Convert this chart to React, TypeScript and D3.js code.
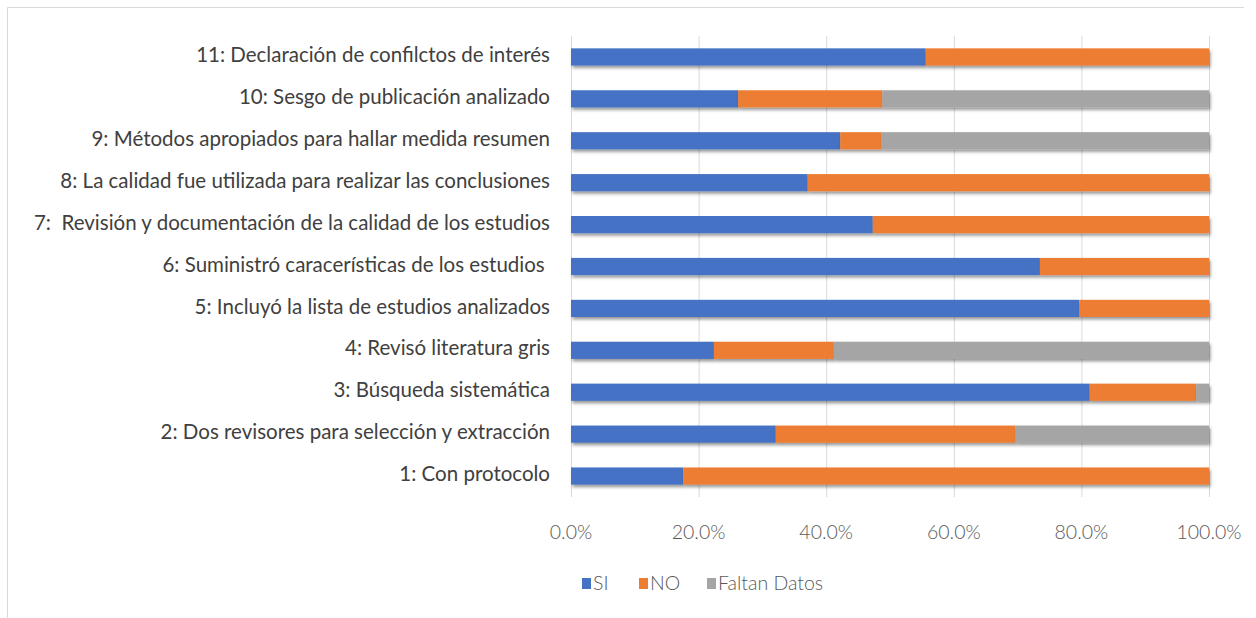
import React from "react";
import * as d3 from "d3";

const categories = [
  "11: Declaración de confilctos de interés",
  "10: Sesgo de publicación analizado",
  "9: Métodos apropiados para hallar medida resumen",
  "8: La calidad fue utilizada para realizar las conclusiones",
  "7:  Revisión y documentación de la calidad de los estudios",
  "6: Suministró caracerísticas de los estudios ",
  "5: Incluyó la lista de estudios analizados",
  "4: Revisó literatura gris",
  "3: Búsqueda sistemática",
  "2: Dos revisores para selección y extracción",
  "1: Con protocolo",
];
const si = [55.6, 26.2, 42.2, 37.1, 47.3, 73.5, 79.7, 22.4, 81.3, 32.1, 17.6];
const no = [44.4, 22.6, 6.4, 62.9, 52.7, 26.5, 20.3, 18.8, 16.7, 37.6, 82.4];
const faltan = [0, 51.2, 51.4, 0, 0, 0, 0, 58.8, 2.0, 30.3, 0];
const seriesNames = ["SI", "NO", "Faltan Datos"];
const colors = ["#4472C4", "#ED7D31", "#A5A5A5"];
const ticks = [0, 20, 40, 60, 80, 100];

export default function App() {
  const W = 1256, H = 618;
  const x = d3.scaleLinear().domain([0, 100]).range([571, 1209]);
  const y = d3.scaleBand().domain(categories).range([36, 497]).paddingInner(0.59).paddingOuter(0.295);
  const rows = categories.map((c, i) => ({ c, SI: si[i], NO: no[i], "Faltan Datos": faltan[i] }));
  const stacked = d3.stack<any>().keys(seriesNames)(rows);
  const font = "Lato, 'Open Sans', sans-serif";
  const legendX = [582, 639, 707];
  return (
    <svg width={W} height={H} style={{ position: "absolute", left: 0, top: 0, background: "#fff" }}>
      <defs>
        <filter id="sh" x="-5%" y="-50%" width="110%" height="220%">
          <feDropShadow dx="1.5" dy="2.5" stdDeviation="1.8" floodColor="#000" floodOpacity="0.4" />
        </filter>
      </defs>
      <rect x={0} y={0} width={W} height={H} fill="#fff" />
      <line x1={7.5} x2={1244} y1={7.5} y2={7.5} stroke="#D9D9D9" />
      <line x1={7.5} x2={7.5} y1={7.5} y2={H} stroke="#D9D9D9" />
      {ticks.map((t) => (
        <line key={t} x1={x(t) + 0.5} x2={x(t) + 0.5} y1={36} y2={497} stroke="#D9D9D9" />
      ))}
      {stacked.map((s, k) => (
        <g key={s.key} fill={colors[k]} filter="url(#sh)">
          {s.map((d: any, i: number) =>
            d[1] - d[0] > 0 ? (
              <rect key={i} x={x(d[0])} y={y(categories[i])} width={x(d[1]) - x(d[0])} height={y.bandwidth()} />
            ) : null
          )}
        </g>
      ))}
      {categories.map((c) => (
        <text key={c} x={550} y={(y(c) as number) + y.bandwidth() / 2 - 2} dy="0.35em" textAnchor="end"
          fontFamily={font} fontSize={20.5} fill="#404040" style={{ whiteSpace: "pre" }}>
          {c}
        </text>
      ))}
      {ticks.map((t) => (
        <text key={t} x={x(t)} y={532} dy="0.35em" textAnchor="middle" fontFamily={font} fontWeight={300}
          fontSize={19.5} fill="#595959">
          {t.toFixed(1) + "%"}
        </text>
      ))}
      {seriesNames.map((n, i) => {
        const lx = legendX[i];
        return (
          <g key={n}>
            <rect x={lx} y={578} width={9} height={11} fill={colors[i]} />
            <text x={lx + 11} y={583.5} dy="0.35em" fontFamily={font} fontWeight={300} fontSize={19.5} fill="#595959">{n}</text>
          </g>
        );
      })}
    </svg>
  );
}
